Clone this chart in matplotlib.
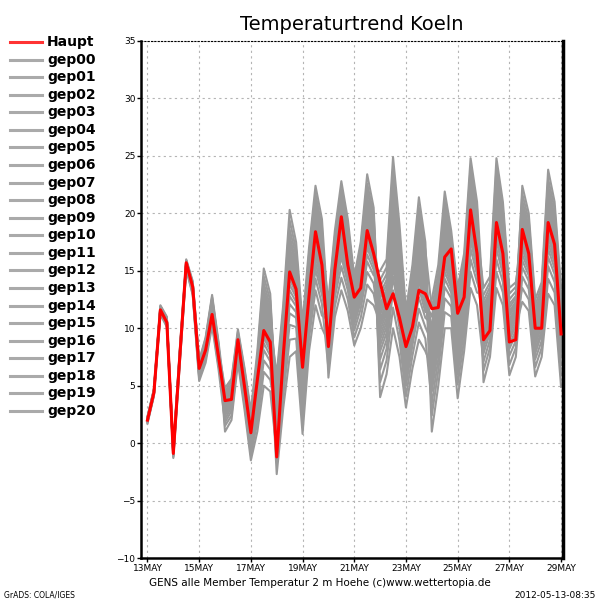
import numpy as np
import matplotlib.pyplot as plt
from matplotlib.lines import Line2D

# 6-stuendliche Zeitschritte ab 13MAY 00Z
tick_pos = [0, 8, 16, 24, 32, 40, 48, 56, 64]
tick_labels = ['13MAY', '15MAY', '17MAY', '19MAY', '21MAY', '23MAY', '25MAY', '27MAY', '29MAY']

haupt = [2.0, 4.4, 11.6, 10.5, -0.9, 7.5, 15.7, 13.6, 6.5, 8.1, 11.2, 7.5, 3.7, 3.8, 9.0, 5.0,
         0.9, 5.5, 9.8, 8.8, -1.2, 7.5, 14.9, 13.4, 6.6, 12.8, 18.4, 15.5, 8.4, 15.1, 19.7, 15.5,
         12.7, 13.5, 18.5, 16.5, 14.0, 11.7, 13.0, 10.9, 8.4, 10.1, 13.3, 13.0, 11.7, 11.8, 16.2, 16.9,
         11.3, 12.7, 20.3, 16.5, 9.0, 9.8, 19.2, 16.5, 8.8, 9.0, 18.6, 16.5, 10.0, 10.0, 19.2, 17.3, 9.5]

gep00 = [2.0, 4.3, 11.5, 10.5, -1.0, 7.4, 15.5, 13.4, 6.1, 7.9, 11.3, 7.4, 3.2, 4.1, 8.7, 5.1,
         1.0, 5.1, 11.0, 9.5, 3.0, 8.9, 15.8, 14.2, 7.1, 13.9, 18.8, 16.2, 9.3, 15.0, 18.3, 15.7,
         11.7, 14.0, 18.3, 16.5, 12.1, 13.4, 21.0, 16.0, 9.3, 13.2, 18.2, 15.0, 5.7, 9.3, 14.9, 13.5,
         7.8, 11.5, 18.1, 15.7, 10.1, 11.6, 20.2, 17.3, 10.4, 11.3, 18.9, 17.0, 10.2, 11.7, 20.0, 17.9, 10.5]
gep01 = [2.1, 4.5, 11.7, 10.7, -0.8, 7.7, 15.7, 13.7, 6.6, 8.5, 12.0, 8.0, 2.1, 3.1, 7.9, 4.1,
         -0.2, 3.1, 8.1, 7.1, 1.2, 7.1, 13.3, 12.3, 5.2, 12.1, 16.7, 14.3, 10.5, 16.3, 20.1, 17.2,
         12.8, 15.3, 20.2, 18.0, 6.4, 8.2, 13.3, 10.0, 5.0, 8.5, 11.7, 10.1, 8.8, 12.1, 18.1, 15.8,
         10.4, 13.8, 21.2, 18.1, 7.8, 9.6, 16.9, 14.7, 8.2, 9.5, 16.9, 15.3, 8.8, 10.4, 17.9, 16.1, 8.8]
gep02 = [2.0, 4.4, 11.7, 10.6, -0.9, 7.6, 15.6, 13.6, 6.4, 8.2, 11.7, 7.7, 3.8, 4.7, 9.2, 5.7,
         1.7, 6.2, 12.6, 10.8, 2.2, 8.0, 14.7, 13.3, 6.2, 13.0, 17.8, 15.3, 8.2, 13.7, 16.7, 14.4,
         10.7, 12.7, 16.4, 15.1, 10.8, 12.2, 19.2, 14.6, 8.3, 12.1, 16.7, 13.9, 7.4, 10.9, 16.7, 14.8,
         9.3, 12.8, 19.8, 17.0, 11.4, 12.7, 21.9, 18.7, 11.5, 12.3, 18.0, 16.3, 9.6, 11.1, 19.1, 17.0, 9.7]
gep03 = [2.2, 4.6, 11.9, 10.9, -0.6, 7.9, 15.9, 13.9, 7.0, 8.9, 12.6, 8.5, 2.9, 3.8, 8.4, 4.8,
         0.6, 4.4, 10.0, 8.7, 4.4, 10.4, 18.0, 15.8, 8.8, 15.4, 20.5, 17.8, 12.0, 18.0, 22.1, 18.9,
         14.1, 17.0, 22.6, 19.9, 9.0, 10.5, 16.7, 12.7, 6.9, 10.6, 14.6, 12.3, 11.0, 14.1, 20.4, 17.4,
         12.3, 15.4, 23.3, 19.8, 9.3, 10.9, 19.0, 16.4, 9.6, 10.7, 20.6, 18.5, 11.3, 12.8, 21.9, 19.4, 12.0]
gep04 = [1.8, 4.2, 11.3, 10.2, -1.2, 7.0, 15.2, 13.0, 5.6, 7.3, 10.5, 6.7, 4.5, 5.4, 9.7, 6.4,
         2.5, 7.5, 14.5, 12.4, 3.5, 9.4, 16.6, 14.8, 7.7, 14.4, 19.4, 16.8, 9.7, 15.4, 18.9, 16.2,
         12.0, 14.4, 18.9, 17.0, 13.6, 14.7, 23.0, 17.5, 10.4, 14.3, 19.8, 16.3, 2.4, 6.3, 11.4, 11.0,
         5.1, 9.0, 14.9, 13.1, 12.9, 14.0, 24.0, 20.4, 13.0, 13.6, 19.5, 17.5, 10.6, 12.1, 20.7, 18.4, 11.0]
gep05 = [2.2, 4.6, 11.8, 10.8, -0.7, 7.8, 15.8, 13.8, 6.8, 8.7, 12.3, 8.3, 1.0, 2.0, 7.0, 3.0,
         -1.5, 1.0, 5.0, 4.5, -0.8, 5.0, 10.3, 10.1, 2.9, 10.0, 14.3, 12.1, 6.5, 11.9, 14.4, 12.5,
         9.2, 10.9, 13.8, 13.0, 10.2, 11.6, 18.3, 13.9, 7.8, 11.5, 15.9, 13.3, 10.0, 13.2, 19.3, 16.6,
         11.4, 14.6, 22.3, 19.0, 5.3, 7.5, 13.5, 12.0, 5.9, 7.5, 14.5, 13.4, 7.3, 8.9, 15.4, 14.0, 6.8]
gep06 = [2.0, 4.4, 11.6, 10.5, -0.9, 7.5, 15.5, 13.5, 6.3, 8.1, 11.5, 7.6, 3.5, 4.3, 8.9, 5.3,
         1.3, 5.6, 11.6, 10.0, 6.0, 12.0, 20.3, 17.5, 10.5, 17.0, 22.4, 19.5, 11.0, 16.9, 20.7, 17.7,
         13.2, 15.9, 21.0, 18.6, 4.0, 6.0, 10.0, 7.5, 3.1, 6.5, 9.0, 8.0, 6.6, 10.2, 15.8, 14.2,
         8.6, 12.2, 19.0, 16.4, 10.6, 12.1, 20.9, 17.9, 10.8, 11.7, 22.4, 20.0, 12.5, 14.0, 23.8, 21.0, 13.5]
gep07 = [2.1, 4.5, 11.7, 10.7, -0.8, 7.6, 15.7, 13.6, 6.5, 8.4, 11.9, 7.9, 2.6, 3.5, 8.2, 4.5,
         0.3, 3.9, 9.2, 8.0, -2.7, 3.0, 7.5, 8.0, 0.8, 8.0, 12.0, 10.0, 8.8, 14.4, 17.6, 15.1,
         11.2, 13.4, 17.4, 15.8, 11.5, 12.8, 20.1, 15.3, 8.8, 12.6, 17.4, 14.5, 8.1, 11.5, 17.4, 15.3,
         9.9, 13.3, 20.5, 17.6, 8.7, 10.4, 18.1, 15.7, 9.0, 10.2, 12.3, 11.5, 5.8, 7.5, 13.0, 12.0, 4.9]
gep08 = [2.3, 4.7, 12.0, 11.0, -0.5, 8.1, 16.0, 14.1, 7.2, 9.2, 12.9, 8.8, 4.1, 5.0, 9.4, 6.0,
         2.0, 6.7, 13.4, 11.5, 2.7, 8.6, 15.4, 13.9, 6.8, 13.6, 18.5, 15.9, 12.5, 18.5, 22.8, 19.5,
         14.5, 17.5, 23.4, 20.5, 8.0, 9.6, 15.4, 11.6, 6.1, 9.7, 13.5, 11.4, 12.5, 15.5, 21.9, 18.5,
         13.5, 16.5, 24.8, 21.0, 12.0, 13.2, 22.8, 19.4, 12.1, 12.8, 18.6, 16.8, 10.0, 11.5, 19.7, 17.6, 10.2]
gep09 = [1.9, 4.3, 11.4, 10.4, -1.1, 7.3, 15.4, 13.3, 5.9, 7.7, 11.0, 7.1, 3.1, 4.0, 8.6, 5.0,
         0.9, 4.9, 10.7, 9.3, 3.7, 9.7, 17.0, 15.0, 8.0, 14.7, 19.7, 17.0, 7.7, 13.3, 16.2, 13.9,
         10.3, 12.3, 15.8, 14.6, 15.0, 16.0, 24.9, 19.0, 11.5, 15.5, 21.4, 17.5, 4.5, 8.2, 13.6, 12.6,
         6.8, 10.6, 16.9, 14.7, 9.9, 11.4, 19.8, 17.0, 10.2, 11.1, 19.8, 17.8, 10.8, 12.3, 21.0, 18.7, 11.3]
gep10 = [2.1, 4.5, 11.8, 10.7, -0.7, 7.8, 15.7, 13.8, 6.7, 8.6, 12.1, 8.1, 4.8, 5.6, 9.9, 6.6,
         2.8, 8.0, 15.2, 13.0, 1.9, 7.8, 14.3, 13.0, 5.9, 12.8, 17.5, 15.0, 10.1, 15.9, 19.5, 16.7,
         12.4, 14.9, 19.6, 17.5, 9.4, 10.9, 17.3, 13.1, 7.2, 10.9, 15.1, 12.7, 9.2, 12.5, 18.5, 16.0,
         10.7, 14.0, 21.5, 18.4, 13.5, 14.5, 24.8, 21.0, 13.5, 14.0, 17.7, 16.0, 9.4, 11.0, 18.7, 16.8, 9.5]
gep11 = [1.7, 4.1, 11.2, 10.1, -1.3, 6.9, 15.1, 12.9, 5.4, 7.0, 10.2, 6.4, 1.8, 2.8, 7.6, 3.8,
         -0.6, 2.5, 7.2, 6.4, 0.4, 6.2, 12.1, 11.4, 4.3, 11.2, 15.7, 13.4, 9.5, 15.2, 18.6, 16.0,
         11.9, 14.2, 18.6, 16.8, 12.6, 13.8, 21.6, 16.5, 9.7, 13.5, 18.7, 15.4, 1.0, 5.0, 10.0, 10.0,
         3.9, 8.0, 13.5, 12.0, 7.1, 9.0, 16.0, 14.0, 7.6, 8.9, 15.9, 14.6, 8.2, 9.8, 16.9, 15.2, 8.0]
gep12 = [2.1, 4.5, 11.7, 10.6, -0.8, 7.6, 15.6, 13.6, 6.5, 8.3, 11.8, 7.8, 3.7, 4.6, 9.1, 5.6,
         1.6, 6.0, 12.2, 10.5, 4.9, 10.8, 18.6, 16.3, 9.2, 15.8, 21.1, 18.3, 5.7, 11.0, 13.3, 11.5,
         8.5, 10.0, 12.5, 12.0, 10.5, 11.9, 18.8, 14.3, 8.1, 11.8, 16.3, 13.6, 7.8, 11.2, 17.0, 15.0,
         9.6, 13.0, 20.2, 17.3, 11.1, 12.5, 21.5, 18.4, 11.3, 12.1, 21.1, 18.9, 11.6, 13.2, 22.4, 19.8, 12.4]
gep13 = [2.2, 4.6, 11.9, 10.8, -0.6, 7.9, 15.8, 13.9, 6.9, 8.8, 12.4, 8.4, 2.7, 3.6, 8.3, 4.6,
         0.4, 4.2, 9.6, 8.3, -1.7, 4.1, 9.0, 9.1, 2.0, 9.1, 13.3, 11.1, 10.7, 16.6, 20.3, 17.4,
         12.9, 15.6, 20.6, 18.3, 7.3, 9.0, 14.5, 11.0, 5.6, 9.2, 12.7, 10.9, 10.4, 13.6, 19.8, 17.0,
         11.8, 15.0, 22.8, 19.4, 9.0, 10.7, 18.6, 16.1, 9.3, 10.4, 13.5, 12.5, 6.6, 8.3, 14.3, 13.1, 5.9]
gep14 = [2.0, 4.4, 11.6, 10.5, -0.9, 7.4, 15.5, 13.4, 6.2, 8.0, 11.4, 7.5, 3.4, 4.2, 8.8, 5.2,
         1.2, 5.3, 11.3, 9.8, 1.6, 7.4, 13.8, 12.7, 5.6, 12.4, 17.1, 14.7, 11.3, 17.2, 21.1, 18.1,
         13.4, 16.2, 21.4, 19.0, 11.2, 12.5, 19.7, 15.0, 8.6, 12.4, 17.1, 14.2, 6.2, 9.7, 15.4, 13.8,
         8.2, 11.8, 18.6, 16.1, 10.4, 11.8, 20.5, 17.6, 10.6, 11.5, 17.3, 15.7, 9.1, 10.7, 18.3, 16.4, 9.1]
gep15 = [2.3, 4.7, 11.9, 10.9, -0.6, 8.0, 15.9, 14.0, 7.1, 9.1, 12.7, 8.6, 1.5, 2.4, 7.4, 3.4,
         -1.0, 1.8, 6.2, 5.5, 2.4, 8.3, 15.1, 13.6, 6.5, 13.3, 18.1, 15.6, 8.5, 14.1, 17.2, 14.8,
         11.0, 13.1, 17.0, 15.5, 14.2, 15.3, 23.9, 18.2, 10.9, 14.9, 20.5, 16.8, 11.7, 14.8, 21.1, 17.9,
         12.8, 15.9, 24.0, 20.4, 6.3, 8.3, 14.9, 13.1, 6.8, 8.3, 18.3, 16.5, 9.8, 11.3, 19.4, 17.3, 10.0]
gep16 = [1.8, 4.2, 11.4, 10.3, -1.1, 7.2, 15.3, 13.2, 5.8, 7.5, 10.8, 6.9, 4.3, 5.1, 9.5, 6.1,
         2.2, 7.1, 13.9, 11.9, 3.2, 9.1, 16.2, 14.5, 7.4, 14.1, 19.1, 16.5, 9.9, 15.7, 19.2, 16.5,
         12.2, 14.7, 19.3, 17.3, 5.3, 7.2, 11.8, 8.9, 4.1, 7.6, 10.5, 9.1, 3.5, 7.3, 12.6, 11.9,
         6.0, 9.9, 16.0, 14.0, 12.4, 13.6, 23.3, 19.8, 12.5, 13.2, 19.2, 17.3, 10.4, 11.9, 20.3, 18.1, 10.8]
gep17 = [2.1, 4.5, 11.7, 10.7, -0.8, 7.7, 15.7, 13.7, 6.6, 8.4, 12.0, 8.0, 3.0, 3.9, 8.5, 4.9,
         0.8, 4.7, 10.4, 9.0, -0.1, 5.7, 11.3, 10.9, 3.7, 10.7, 15.1, 12.9, 10.3, 16.1, 19.8, 16.9,
         12.6, 15.1, 19.9, 17.8, 11.8, 13.1, 20.6, 15.7, 9.1, 12.9, 17.8, 14.8, 8.5, 11.8, 17.7, 15.5,
         10.1, 13.5, 20.9, 17.9, 9.7, 11.2, 19.5, 16.8, 9.9, 11.0, 15.3, 14.1, 7.8, 9.5, 16.2, 14.7, 7.5]
gep18 = [2.0, 4.4, 11.6, 10.6, -0.9, 7.5, 15.6, 13.5, 6.4, 8.2, 11.6, 7.7, 4.0, 4.8, 9.3, 5.8,
         1.9, 6.5, 13.0, 11.1, 5.4, 11.4, 19.4, 16.8, 9.8, 16.4, 21.7, 18.8, 7.2, 12.7, 15.4, 13.3,
         9.8, 11.7, 14.9, 13.9, 9.8, 11.3, 17.9, 13.6, 7.6, 11.3, 15.6, 13.0, 7.1, 10.6, 16.3, 14.5,
         9.0, 12.5, 19.5, 16.8, 11.7, 13.0, 22.3, 19.0, 11.8, 12.6, 21.7, 19.4, 12.0, 13.6, 23.0, 20.4, 12.9]
gep19 = [2.1, 4.5, 11.8, 10.8, -0.7, 7.8, 15.8, 13.8, 6.7, 8.6, 12.2, 8.2, 2.4, 3.3, 8.0, 4.3,
         0.1, 3.5, 8.7, 7.6, 0.9, 6.7, 12.8, 11.9, 4.8, 11.7, 16.3, 13.9, 11.6, 17.5, 21.6, 18.5,
         13.7, 16.5, 22.0, 19.4, 8.5, 10.1, 16.1, 12.2, 6.5, 10.2, 14.1, 11.9, 9.5, 12.8, 18.8, 16.3,
         11.0, 14.3, 21.9, 18.7, 8.3, 10.0, 17.6, 15.2, 8.6, 9.8, 16.4, 15.0, 8.6, 10.2, 17.4, 15.7, 8.4]
gep20 = [1.9, 4.3, 11.5, 10.4, -1.0, 7.3, 15.4, 13.3, 6.1, 7.8, 11.2, 7.3, 3.6, 4.5, 9.0, 5.5,
         1.4, 5.8, 11.9, 10.3, 4.1, 10.0, 17.5, 15.4, 8.4, 15.0, 20.1, 17.4, 9.0, 14.7, 18.0, 15.4,
         11.4, 13.7, 17.8, 16.2, 13.0, 14.2, 22.2, 16.9, 10.0, 13.9, 19.2, 15.8, 5.1, 8.8, 14.3, 13.1,
         7.4, 11.1, 17.6, 15.2, 10.9, 12.3, 21.2, 18.1, 11.1, 11.9, 20.2, 18.1, 11.0, 12.6, 21.4, 19.0, 11.6]

members = [gep00, gep01, gep02, gep03, gep04, gep05, gep06, gep07, gep08, gep09, gep10,
           gep11, gep12, gep13, gep14, gep15, gep16, gep17, gep18, gep19, gep20]
names = ['gep%02d' % k for k in range(len(members))]

gray = '#999999'
red = '#ff0000'

fig = plt.figure(figsize=(6, 6), dpi=100)
ax = fig.add_axes([141 / 600, 1 - 558 / 600, (563 - 141) / 600, (558 - 41) / 600])

for m in members:
    ax.plot(np.arange(len(m)), m, color=gray, lw=1.5, zorder=2)
ax.plot(np.arange(len(haupt)), haupt, color=red, lw=2.2, zorder=3)

ax.set_xlim(-1.0, 64.3)
ax.set_ylim(-10, 35)
ax.set_yticks(np.arange(-10, 36, 5))
ax.set_xticks(tick_pos)
ax.set_xticklabels(tick_labels)
ax.tick_params(axis='both', labelsize=6.5, length=3, width=1, pad=1)
ax.grid(True, color='#b4b4b4', linestyle=(0, (2, 3)), linewidth=0.8, zorder=0)

for s in ['left', 'bottom']:
    ax.spines[s].set_linewidth(1.8)
ax.spines['right'].set_linewidth(2.5)
ax.spines['top'].set_linestyle((0, (1, 2)))
ax.spines['top'].set_linewidth(0.8)

# Legende links neben dem Plot
y0 = 1 - 42 / 600
dy = 17.57 / 600
entries = [('Haupt', '#ff3333')] + [(n, '#aaaaaa') for n in names]
for k, (lab, col) in enumerate(entries):
    y = y0 - k * dy
    fig.add_artist(Line2D([10 / 600, 42 / 600], [y, y], color=col, lw=2.2))
    fig.text(47 / 600, y, lab, fontsize=10, fontweight='bold', va='center', ha='left')

fig.text(352 / 600, 1 - 24 / 600, 'Temperaturtrend Koeln', fontsize=14, ha='center', va='center')
fig.text(320 / 600, 1 - 583 / 600, 'GENS alle Member Temperatur 2 m Hoehe (c)www.wettertopia.de',
         fontsize=7.5, ha='center', va='center')
fig.text(4 / 600, 1 - 595 / 600, 'GrADS: COLA/IGES', fontsize=5.5, ha='left', va='center')
fig.text(596 / 600, 1 - 595 / 600, '2012-05-13-08:35', fontsize=6.5, ha='right', va='center')

fig.savefig('out.png', dpi=100)
